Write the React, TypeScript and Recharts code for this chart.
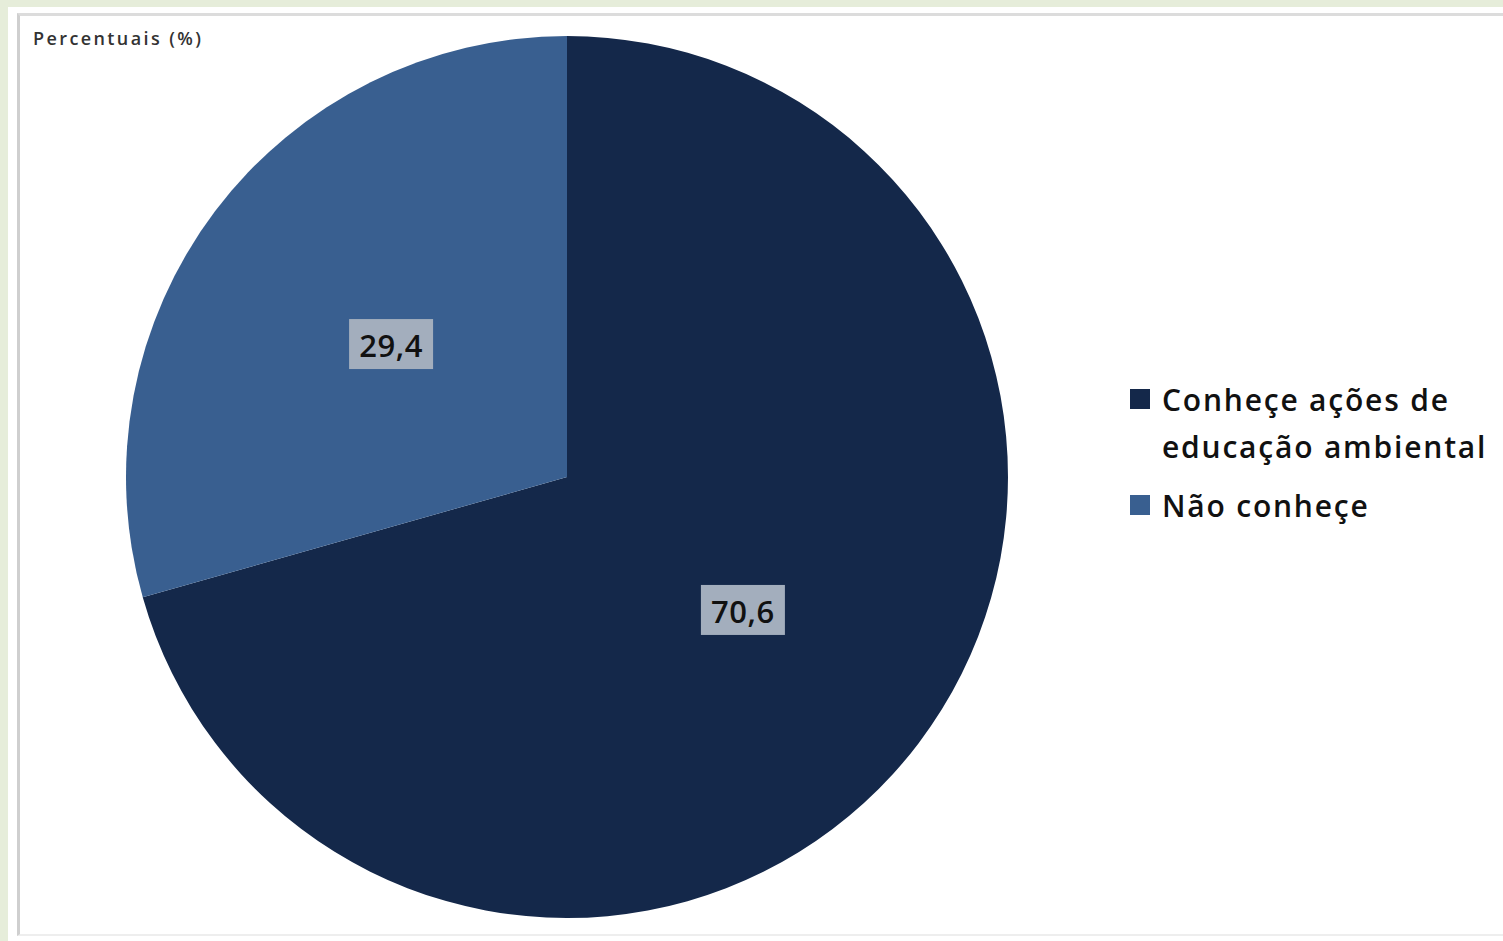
import React from 'react';
import { PieChart, Pie, Cell, Legend } from 'recharts';

// Dados do gráfico
const categories = ['Conheçe ações de educação ambiental', 'Não conheçe'];
const legendLines = [['Conheçe ações de', 'educação ambiental'], ['Não conheçe']];
const percents = [70.6, 29.4];
const COLORS = ['#14284a', '#395f90'];

const data = categories.map((name, i) => ({ name, value: percents[i] }));

const W = 1503;
const H = 941;
const FONT = '"Open Sans", Lato, sans-serif';

const RADIAN = Math.PI / 180;

const renderLabel = (props: any) => {
  const { cx, cy, midAngle, outerRadius, value } = props;
  const r = outerRadius * 0.5;
  const x = cx + r * Math.cos(-midAngle * RADIAN);
  const y = cy + r * Math.sin(-midAngle * RADIAN);
  const text = value.toFixed(1).replace('.', ',');
  return (
    <g>
      <rect x={x - 42} y={y - 25} width={84} height={50} fill="#a3aebd" />
      <text
        x={x}
        y={y + 1}
        textAnchor="middle"
        dominantBaseline="central"
        fontFamily={FONT}
        fontSize={31}
        fontWeight={600}
        letterSpacing={0.5}
        fill="#111"
      >
        {text}
      </text>
    </g>
  );
};

const renderLegend = () => (
  <div style={{ fontFamily: FONT, fontSize: 30, fontWeight: 600, letterSpacing: 1.8, color: '#111' }}>
    {legendLines.map((lines, i) => (
      <div key={i} style={{ display: 'flex', alignItems: 'flex-start', marginBottom: 12 }}>
        <div
          style={{ width: 20, height: 20, background: COLORS[i], marginTop: 13, marginRight: 12, flexShrink: 0 }}
        />
        <div style={{ lineHeight: '47px' }}>
          {lines.map((l) => (
            <div key={l}>{l}</div>
          ))}
        </div>
      </div>
    ))}
  </div>
);

export default function App() {
  return (
    <div style={{ position: 'absolute', left: 0, top: 0, width: W, height: H, background: '#e6edda', overflow: 'hidden' }}>
      {/* moldura do gráfico */}
      <div style={{ position: 'absolute', left: 8, top: 7, width: W - 8, height: H - 7, background: '#ffffff' }} />
      <div style={{ position: 'absolute', left: 17, top: 13, width: W - 17, height: H - 23, borderLeft: '3px solid #cfcfcf', borderTop: '3px solid #dcdcdc', borderBottom: '2px solid #eeeeee' }} />
      <div style={{ position: 'absolute', left: 33, top: 26, fontFamily: FONT, fontSize: 18, fontWeight: 600, letterSpacing: 2.4, color: '#333' }}>
        Percentuais (%)
      </div>
      <div style={{ position: 'absolute', left: 0, top: 0 }}>
        <PieChart width={W} height={H}>
          <Pie
            data={data}
            dataKey="value"
            nameKey="name"
            cx={562}
            cy={472}
            outerRadius={441}
            startAngle={90}
            endAngle={-270}
            stroke="none"
            labelLine={false}
            label={renderLabel}
            isAnimationActive={false}
          >
            {data.map((_e, i) => (
              <Cell key={`cell-${i}`} fill={COLORS[i]} />
            ))}
          </Pie>
          <Legend
            content={renderLegend}
            layout="vertical"
            wrapperStyle={{ position: 'absolute', left: 1130, top: 376, width: 370 }}
          />
        </PieChart>
      </div>
    </div>
  );
}
